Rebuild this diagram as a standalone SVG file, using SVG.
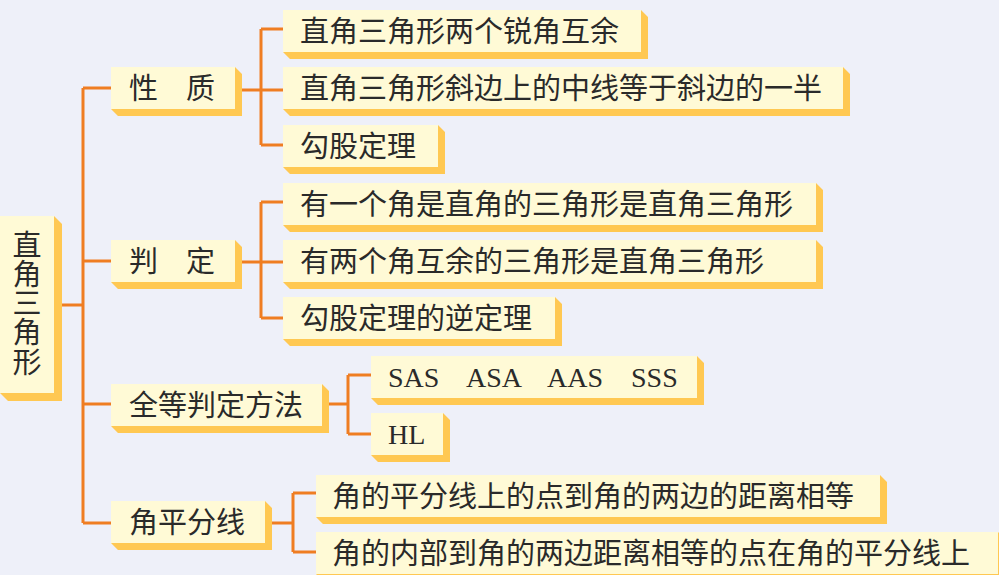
<svg xmlns="http://www.w3.org/2000/svg" width="999" height="575" viewBox="0 0 999 575">
<style>
.bg{fill:#EEF0F9}
.face{fill:#FFFAD6}
.side{fill:#FFC852}
.t{font-family:"Noto Sans CJK SC","Noto Sans CJK JP",sans-serif;font-size:29px;fill:#2a2a2a}
.e{font-family:"Liberation Serif","Times New Roman",serif;font-size:28px;fill:#2a2a2a}
.c{fill:none;stroke:#EF7D22;stroke-width:3}
</style>
<rect class="bg" x="0" y="0" width="999" height="575"/>
<g id="connectors">
<path class="c" d="M62,305H83M83,88V523M83,88H111M83,261H111M83,404H111M83,523H111"/>
<path class="c" d="M242,90H261M261,29V145M261,29H283M261,90H283M261,145H283"/>
<path class="c" d="M242,262H261M261,202V318M261,202H283M261,262H283M261,318H283"/>
<path class="c" d="M328,404H348M348,375V434M348,375H371M348,434H371"/>
<path class="c" d="M272,523H293M293,493V552M293,493H316M293,552H316"/>
</g>
<g id="root">
<polygon class="side" points="54,216 62,224 62,401 8,401 0,393 54,393"/>
<rect class="face" x="0" y="216" width="54" height="177"/>
<text class="t" x="27" y="230" writing-mode="vertical-rl" style="writing-mode:vertical-rl;letter-spacing:0.3px">直角三角形</text>
</g>
<g id="n-xingzhi">
<polygon class="side" points="235,67 242,74 242,116 118,116 111,109 235,109"/>
<rect class="face" x="111" y="67" width="124" height="42"/>
<text class="t" x="129" y="98.5">性<tspan x="186">质</tspan></text>
</g>
<g id="n-panding">
<polygon class="side" points="235,240 242,247 242,289 118,289 111,282 235,282"/>
<rect class="face" x="111" y="240" width="124" height="42"/>
<text class="t" x="129" y="271.5">判<tspan x="186">定</tspan></text>
</g>
<g id="n-quandeng">
<polygon class="side" points="322,384 329,391 329,433 118,433 111,426 322,426"/>
<rect class="face" x="111" y="384" width="211" height="42"/>
<text class="t" x="129" y="415.5">全等判定方法</text>
</g>
<g id="n-jiaopingfen">
<polygon class="side" points="265,501 272,508 272,550 118,550 111,543 265,543"/>
<rect class="face" x="111" y="501" width="154" height="42"/>
<text class="t" x="129" y="532.5">角平分线</text>
</g>
<g id="n-a1">
<polygon class="side" points="641,10 648,17 648,59 290,59 283,52 641,52"/>
<rect class="face" x="283" y="10" width="358" height="42"/>
<text class="t" x="300" y="41.5">直角三角形两个锐角互余</text>
</g>
<g id="n-a2">
<polygon class="side" points="843,67 850,74 850,116 290,116 283,109 843,109"/>
<rect class="face" x="283" y="67" width="560" height="42"/>
<text class="t" x="300" y="98.5">直角三角形斜边上的中线等于斜边的一半</text>
</g>
<g id="n-a3">
<polygon class="side" points="438,125 445,132 445,174 290,174 283,167 438,167"/>
<rect class="face" x="283" y="125" width="155" height="42"/>
<text class="t" x="300" y="156.5">勾股定理</text>
</g>
<g id="n-b1">
<polygon class="side" points="816,183 823,190 823,232 290,232 283,225 816,225"/>
<rect class="face" x="283" y="183" width="533" height="42"/>
<text class="t" x="300" y="214.5">有一个角是直角的三角形是直角三角形</text>
</g>
<g id="n-b2">
<polygon class="side" points="816,240 823,247 823,289 290,289 283,282 816,282"/>
<rect class="face" x="283" y="240" width="533" height="42"/>
<text class="t" x="300" y="271.5">有两个角互余的三角形是直角三角形</text>
</g>
<g id="n-b3">
<polygon class="side" points="555,297 562,304 562,346 290,346 283,339 555,339"/>
<rect class="face" x="283" y="297" width="272" height="42"/>
<text class="t" x="300" y="328.5">勾股定理的逆定理</text>
</g>
<g id="n-c1">
<polygon class="side" points="697,356 704,363 704,405 378,405 371,398 697,398"/>
<rect class="face" x="371" y="356" width="326" height="42"/>
<text class="e" y="387"><tspan x="388">SAS</tspan> <tspan x="466">ASA</tspan> <tspan x="547">AAS</tspan> <tspan x="631">SSS</tspan></text>
</g>
<g id="n-c2">
<polygon class="side" points="443,413 450,420 450,462 378,462 371,455 443,455"/>
<rect class="face" x="371" y="413" width="72" height="42"/>
<text class="e" x="388" y="444">HL</text>
</g>
<g id="n-d1">
<polygon class="side" points="880,475 887,482 887,524 323,524 316,517 880,517"/>
<rect class="face" x="316" y="475" width="564" height="42"/>
<text class="t" x="332" y="506.5">角的平分线上的点到角的两边的距离相等</text>
</g>
<g id="n-d2">
<polygon class="side" points="998,532 1005,539 1005,581 323,581 316,574 998,574"/>
<rect class="face" x="316" y="532" width="682" height="42"/>
<text class="t" x="332" y="563.5">角的内部到角的两边距离相等的点在角的平分线上</text>
</g>
</svg>
